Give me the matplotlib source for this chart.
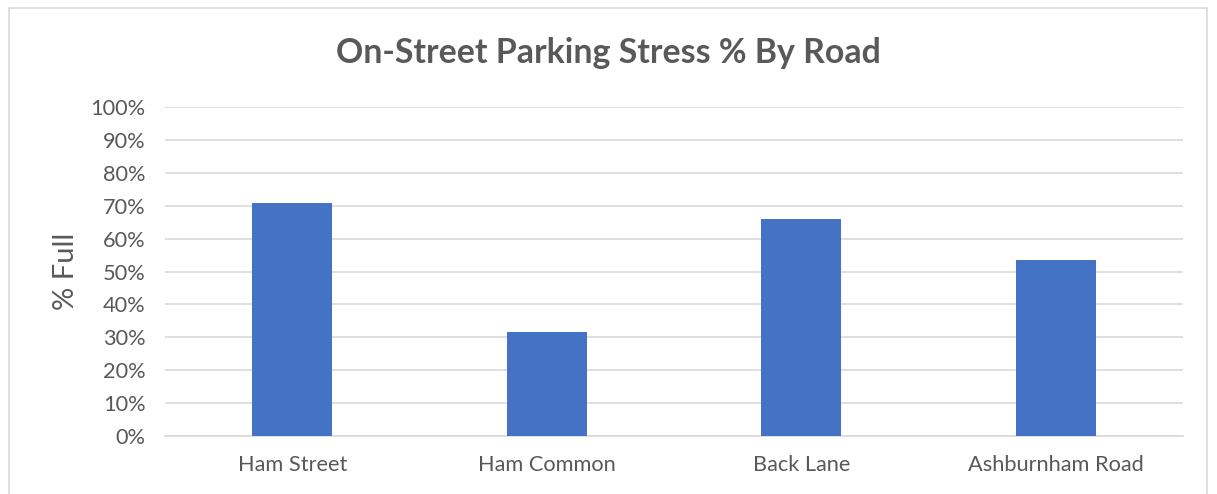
import matplotlib.pyplot as plt
import matplotlib.patches as mpatches
from matplotlib.ticker import PercentFormatter
import numpy as np

roads = ['Ham Street', 'Ham Common', 'Back Lane', 'Ashburnham Road']
pct_full = [70.8, 31.6, 66.0, 53.5]
yticks = list(range(0, 101, 10))

plt.rcParams['font.family'] = ['Lato', 'DejaVu Sans']

fig = plt.figure(figsize=(12.17, 4.94), dpi=100)
ax = fig.add_axes([0.1356, 0.1174, 0.8364, 0.6656])

# outer chart border like the spreadsheet frame
fig.patches.append(mpatches.Rectangle((9 / 1217, -0.05), 1198 / 1217, 1.05 - 8 / 494,
                                      transform=fig.transFigure, fill=False,
                                      edgecolor='#d9d9d9', linewidth=1.2))

x = np.arange(len(roads))
ax.bar(x, pct_full, width=0.315, color='#4472c4', zorder=3)

ax.set_xlim(-0.5, len(roads) - 0.5)
ax.set_ylim(0, 100)
ax.set_yticks(yticks)
ax.yaxis.set_major_formatter(PercentFormatter(decimals=0))
ax.set_xticks(x)
ax.set_xticklabels(roads)
ax.grid(axis='y', color='#d9d9d9', linewidth=1.2, zorder=0)
for s in ['top', 'right', 'left']:
    ax.spines[s].set_visible(False)
ax.spines['bottom'].set_color('#d9d9d9')
ax.spines['bottom'].set_linewidth(1.2)
ax.tick_params(axis='both', length=0, labelsize=15.7, colors='#595959')
ax.tick_params(axis='x', pad=14)
ax.tick_params(axis='y', pad=14)

ax.set_ylabel('% Full', fontsize=21, color='#595959', labelpad=8)
fig.text(0.5, 0.892, 'On-Street Parking Stress % By Road', ha='center', va='center',
         fontsize=24.4, fontweight='bold', color='#595959')

fig.savefig('out.png', dpi=100)
